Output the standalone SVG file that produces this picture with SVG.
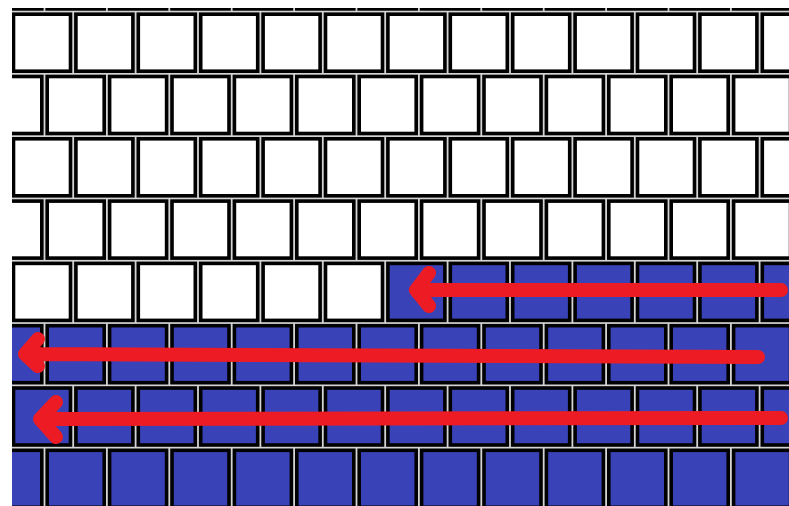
<svg xmlns="http://www.w3.org/2000/svg" width="789" height="506" viewBox="0 0 789 506">
<style>
.row rect{stroke:#000;stroke-width:3.6}
.w{fill:#fff}
.b{fill:#3a42b8}
.arrow{fill:none;stroke:#ed1c24;stroke-width:14;stroke-linecap:round;stroke-linejoin:round}
</style>
<defs>
<clipPath id="area"><rect x="12" y="8" width="777" height="498"/></clipPath>
</defs>
<rect width="789" height="506" fill="#fff"/>
<g id="wall" clip-path="url(#area)">
<rect x="0" y="0" width="789" height="506" fill="#d4d4d4"/>
<g id="row0" class="row" transform="translate(0,-48.1)">
<rect class="w" x="-15.2" y="0" width="57" height="57"/><rect class="w" x="47.2" y="0" width="57" height="57"/><rect class="w" x="109.6" y="0" width="57" height="57"/><rect class="w" x="172" y="0" width="57" height="57"/><rect class="w" x="234.4" y="0" width="57" height="57"/><rect class="w" x="296.8" y="0" width="57" height="57"/><rect class="w" x="359.2" y="0" width="57" height="57"/><rect class="w" x="421.6" y="0" width="57" height="57"/><rect class="w" x="484" y="0" width="57" height="57"/><rect class="w" x="546.4" y="0" width="57" height="57"/><rect class="w" x="608.8" y="0" width="57" height="57"/><rect class="w" x="671.2" y="0" width="57" height="57"/><rect class="w" x="733.6" y="0" width="57" height="57"/>
</g>
<g id="row1" class="row" transform="translate(0,14.2)">
<rect class="w" x="13.5" y="0" width="57" height="57"/><rect class="w" x="75.9" y="0" width="57" height="57"/><rect class="w" x="138.3" y="0" width="57" height="57"/><rect class="w" x="200.7" y="0" width="57" height="57"/><rect class="w" x="263.1" y="0" width="57" height="57"/><rect class="w" x="325.5" y="0" width="57" height="57"/><rect class="w" x="387.9" y="0" width="57" height="57"/><rect class="w" x="450.3" y="0" width="57" height="57"/><rect class="w" x="512.7" y="0" width="57" height="57"/><rect class="w" x="575.1" y="0" width="57" height="57"/><rect class="w" x="637.5" y="0" width="57" height="57"/><rect class="w" x="699.9" y="0" width="57" height="57"/><rect class="w" x="762.3" y="0" width="57" height="57"/>
</g>
<g id="row2" class="row" transform="translate(0,76.5)">
<rect class="w" x="-15.2" y="0" width="57" height="57"/><rect class="w" x="47.2" y="0" width="57" height="57"/><rect class="w" x="109.6" y="0" width="57" height="57"/><rect class="w" x="172" y="0" width="57" height="57"/><rect class="w" x="234.4" y="0" width="57" height="57"/><rect class="w" x="296.8" y="0" width="57" height="57"/><rect class="w" x="359.2" y="0" width="57" height="57"/><rect class="w" x="421.6" y="0" width="57" height="57"/><rect class="w" x="484" y="0" width="57" height="57"/><rect class="w" x="546.4" y="0" width="57" height="57"/><rect class="w" x="608.8" y="0" width="57" height="57"/><rect class="w" x="671.2" y="0" width="57" height="57"/><rect class="w" x="733.6" y="0" width="57" height="57"/>
</g>
<g id="row3" class="row" transform="translate(0,138.8)">
<rect class="w" x="13.5" y="0" width="57" height="57"/><rect class="w" x="75.9" y="0" width="57" height="57"/><rect class="w" x="138.3" y="0" width="57" height="57"/><rect class="w" x="200.7" y="0" width="57" height="57"/><rect class="w" x="263.1" y="0" width="57" height="57"/><rect class="w" x="325.5" y="0" width="57" height="57"/><rect class="w" x="387.9" y="0" width="57" height="57"/><rect class="w" x="450.3" y="0" width="57" height="57"/><rect class="w" x="512.7" y="0" width="57" height="57"/><rect class="w" x="575.1" y="0" width="57" height="57"/><rect class="w" x="637.5" y="0" width="57" height="57"/><rect class="w" x="699.9" y="0" width="57" height="57"/><rect class="w" x="762.3" y="0" width="57" height="57"/>
</g>
<g id="row4" class="row" transform="translate(0,201.1)">
<rect class="w" x="-15.2" y="0" width="57" height="57"/><rect class="w" x="47.2" y="0" width="57" height="57"/><rect class="w" x="109.6" y="0" width="57" height="57"/><rect class="w" x="172" y="0" width="57" height="57"/><rect class="w" x="234.4" y="0" width="57" height="57"/><rect class="w" x="296.8" y="0" width="57" height="57"/><rect class="w" x="359.2" y="0" width="57" height="57"/><rect class="w" x="421.6" y="0" width="57" height="57"/><rect class="w" x="484" y="0" width="57" height="57"/><rect class="w" x="546.4" y="0" width="57" height="57"/><rect class="w" x="608.8" y="0" width="57" height="57"/><rect class="w" x="671.2" y="0" width="57" height="57"/><rect class="w" x="733.6" y="0" width="57" height="57"/>
</g>
<g id="row5" class="row" transform="translate(0,263.4)">
<rect class="w" x="13.5" y="0" width="57" height="57"/><rect class="w" x="75.9" y="0" width="57" height="57"/><rect class="w" x="138.3" y="0" width="57" height="57"/><rect class="w" x="200.7" y="0" width="57" height="57"/><rect class="w" x="263.1" y="0" width="57" height="57"/><rect class="w" x="325.5" y="0" width="57" height="57"/><rect class="b" x="387.9" y="0" width="57" height="57"/><rect class="b" x="450.3" y="0" width="57" height="57"/><rect class="b" x="512.7" y="0" width="57" height="57"/><rect class="b" x="575.1" y="0" width="57" height="57"/><rect class="b" x="637.5" y="0" width="57" height="57"/><rect class="b" x="699.9" y="0" width="57" height="57"/><rect class="b" x="762.3" y="0" width="57" height="57"/>
</g>
<g id="row6" class="row" transform="translate(0,325.7)">
<rect class="b" x="-15.2" y="0" width="57" height="57"/><rect class="b" x="47.2" y="0" width="57" height="57"/><rect class="b" x="109.6" y="0" width="57" height="57"/><rect class="b" x="172" y="0" width="57" height="57"/><rect class="b" x="234.4" y="0" width="57" height="57"/><rect class="b" x="296.8" y="0" width="57" height="57"/><rect class="b" x="359.2" y="0" width="57" height="57"/><rect class="b" x="421.6" y="0" width="57" height="57"/><rect class="b" x="484" y="0" width="57" height="57"/><rect class="b" x="546.4" y="0" width="57" height="57"/><rect class="b" x="608.8" y="0" width="57" height="57"/><rect class="b" x="671.2" y="0" width="57" height="57"/><rect class="b" x="733.6" y="0" width="57" height="57"/>
</g>
<g id="row7" class="row" transform="translate(0,388)">
<rect class="b" x="13.5" y="0" width="57" height="57"/><rect class="b" x="75.9" y="0" width="57" height="57"/><rect class="b" x="138.3" y="0" width="57" height="57"/><rect class="b" x="200.7" y="0" width="57" height="57"/><rect class="b" x="263.1" y="0" width="57" height="57"/><rect class="b" x="325.5" y="0" width="57" height="57"/><rect class="b" x="387.9" y="0" width="57" height="57"/><rect class="b" x="450.3" y="0" width="57" height="57"/><rect class="b" x="512.7" y="0" width="57" height="57"/><rect class="b" x="575.1" y="0" width="57" height="57"/><rect class="b" x="637.5" y="0" width="57" height="57"/><rect class="b" x="699.9" y="0" width="57" height="57"/><rect class="b" x="762.3" y="0" width="57" height="57"/>
</g>
<g id="row8" class="row" transform="translate(0,450.3)">
<rect class="b" x="-15.2" y="0" width="57" height="57"/><rect class="b" x="47.2" y="0" width="57" height="57"/><rect class="b" x="109.6" y="0" width="57" height="57"/><rect class="b" x="172" y="0" width="57" height="57"/><rect class="b" x="234.4" y="0" width="57" height="57"/><rect class="b" x="296.8" y="0" width="57" height="57"/><rect class="b" x="359.2" y="0" width="57" height="57"/><rect class="b" x="421.6" y="0" width="57" height="57"/><rect class="b" x="484" y="0" width="57" height="57"/><rect class="b" x="546.4" y="0" width="57" height="57"/><rect class="b" x="608.8" y="0" width="57" height="57"/><rect class="b" x="671.2" y="0" width="57" height="57"/><rect class="b" x="733.6" y="0" width="57" height="57"/>
</g>
</g>
<g id="arrows">
<path class="arrow" d="M781,290 H416 M429,273 L416,290 L429,306"/>
<path class="arrow" d="M758,357 L25,354 M38,339 L25,354 L38,366"/>
<path class="arrow" d="M781,418 L40,419 M56,402 L40,419 L56,437"/>
</g>
</svg>
